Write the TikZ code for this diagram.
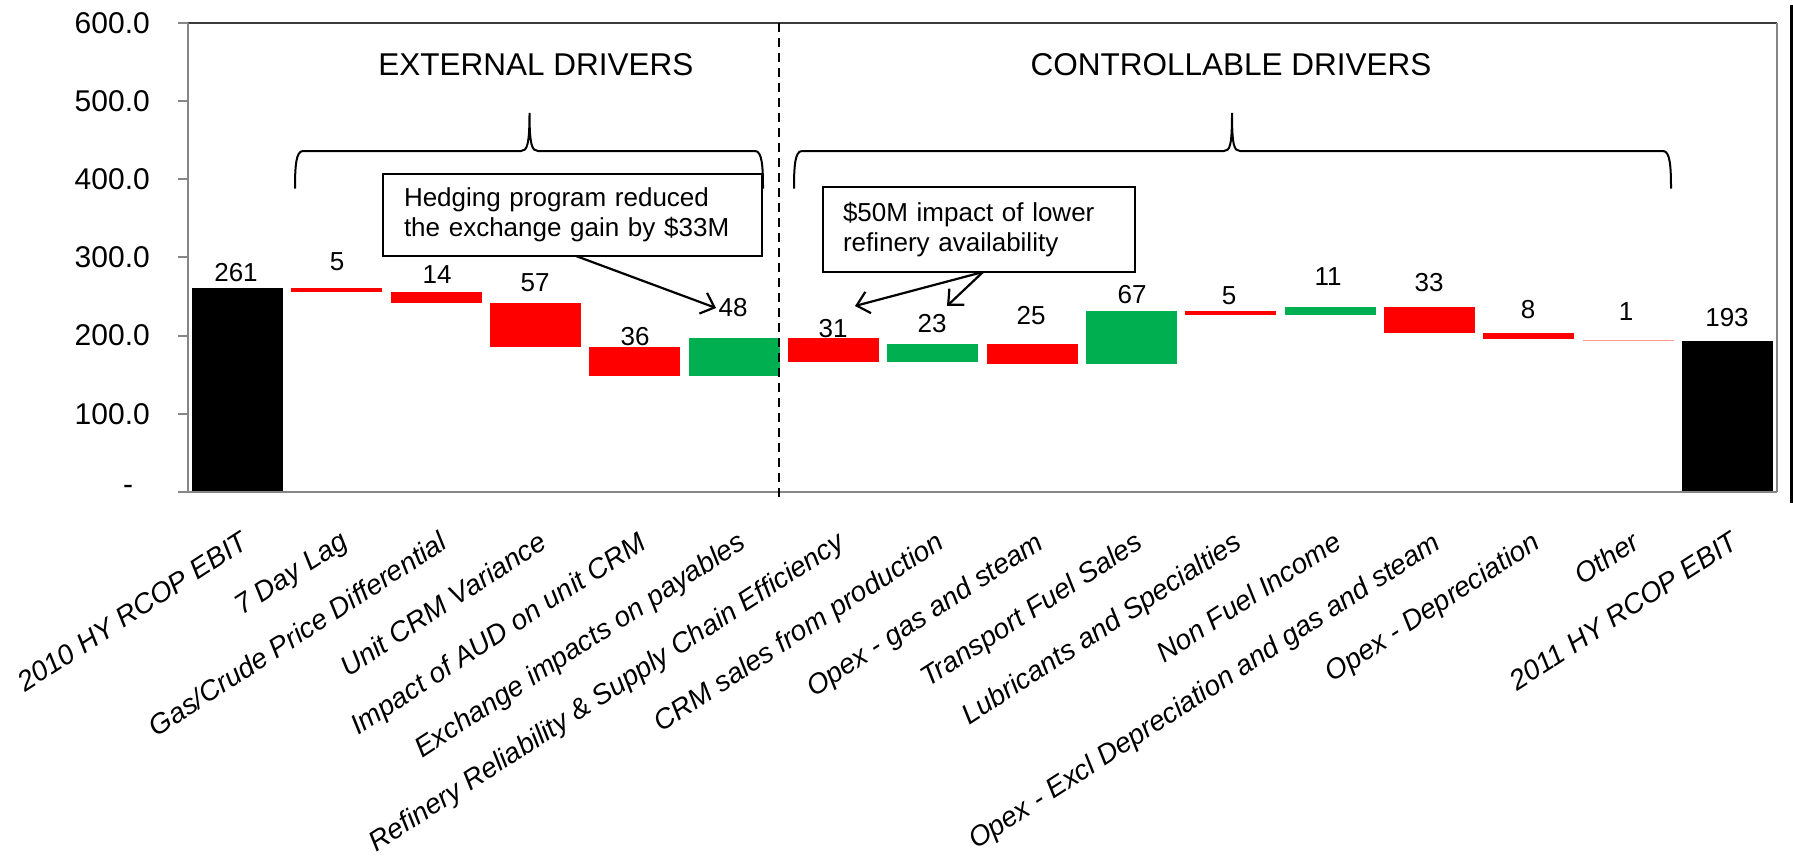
\documentclass[tikz,border=0pt]{standalone}
\usepackage{fontspec}
\setmainfont{Liberation Sans}
\usetikzlibrary{arrows.meta}
\definecolor{wfred}{RGB}{255,0,0}
\definecolor{wfgreen}{RGB}{0,176,80}
\definecolor{wfpink}{RGB}{255,150,150}
\definecolor{axgray}{RGB}{134,134,134}
\definecolor{framegray}{RGB}{60,60,60}
\newcommand\wfbar[4]{\fill[#4] ({#1-45.5},{492-#2*0.7817}) rectangle ({#1+45.5},{492-#3*0.7817});}
\tikzset{
  ylab/.style={anchor=east, font=\fontsize{30}{36}\selectfont, inner sep=0pt},
  vlab/.style={font=\fontsize{26}{31}\selectfont, inner sep=0pt},
  catlab/.style={font=\fontsize{28}{33}\selectfont\itshape, inner sep=0pt, rotate=33, anchor=north east},
  hdr/.style={font=\fontsize{31.5}{38}\selectfont, inner sep=0pt},
  note/.style={draw, line width=2pt, fill=white, font=\fontsize{26}{30}\selectfont, align=left, inner sep=0pt},
  bracepath/.style={line width=2pt},
  callout/.style={line width=2.2pt, -{Straight Barb[length=12pt,width=22pt]}},
  axisline/.style={axgray, line width=2.5pt},
  tickline/.style={axgray, line width=2pt}
}
\begin{document}
\begin{tikzpicture}[x=1pt,y=-1pt]
\useasboundingbox (0,0) rectangle (1793,856);
\fill[white] (0,0) rectangle (1793,856);

% bars
\wfbar{237.5}{0}{261}{black}
\wfbar{336.8}{261}{256}{wfred}
\wfbar{436.2}{256}{242}{wfred}
\wfbar{535.5}{242}{185}{wfred}
\wfbar{634.8}{185}{149}{wfred}
\wfbar{734.2}{149}{197}{wfgreen}
\wfbar{833.5}{197}{166}{wfred}
\wfbar{932.8}{166}{189}{wfgreen}
\wfbar{1032.1}{189}{164}{wfred}
\wfbar{1131.5}{164}{231}{wfgreen}
\wfbar{1230.8}{231}{226}{wfred}
\wfbar{1330.1}{226}{237}{wfgreen}
\wfbar{1429.5}{237}{204}{wfred}
\wfbar{1528.8}{204}{195.5}{wfred}
\wfbar{1628.1}{194.8}{193.8}{wfpink}
\wfbar{1727.5}{0}{193}{black}

% frame and axes
\draw[framegray, line width=1.8pt] (188,23) -- (1777,23);
\draw[axgray, line width=2pt] (1777,23) -- (1777,492);
\draw[axisline] (188,23) -- (188,492);
\draw[axisline] (178,492) -- (1777,492);
\foreach \v in {100,200,300,400,500,600}
  \draw[tickline] (178,{492-\v*0.7817}) -- (188,{492-\v*0.7817});

% y labels
\foreach \v/\t in {100/100.0,200/200.0,300/300.0,400/400.0,500/500.0,600/600.0}
  \node[ylab] (y\v) at (150,{492-\v*0.7817}) {\t};
\node[font=\fontsize{30}{36}\selectfont, inner sep=0pt] (y0) at (128,490) {-};

% divider
\draw[line width=2.3pt, dash pattern=on 9pt off 6pt] (779,23) -- (779,498);
\draw[line width=3pt] (1791.5,5) -- (1791.5,503);

% headers
\node[hdr] (hext) at (536,65) {EXTERNAL DRIVERS};
\node[hdr] (hctl) at (1231,65) {CONTROLLABLE DRIVERS};

% braces
\draw[bracepath] (295,188.6) .. controls (295,166) and (296,151) .. (303,151) -- (521,151)
  .. controls (527,151) and (529.5,145) .. (529.5,113)
  .. controls (529.5,145) and (532,151) .. (538,151) -- (755,151)
  .. controls (762,151) and (763,166) .. (763,188.6);
\draw[bracepath] (794,188.6) .. controls (794,166) and (795,151) .. (802,151) -- (1224,151)
  .. controls (1230,151) and (1232,145) .. (1232,113)
  .. controls (1232,145) and (1234,151) .. (1240,151) -- (1663,151)
  .. controls (1670,151) and (1671,166) .. (1671,188.6);

% annotation boxes
\node[note, minimum width=379pt, minimum height=82pt, text width=337pt] (hedge) at (572.5,215)
  {Hedging program reduced\\the exchange gain by \$33M};
\node[note, minimum width=312pt, minimum height=85pt, text width=272pt] (avail) at (979,229.5)
  {\$50M impact of lower\\refinery availability};

% value labels
\foreach \i/\x/\y/\t in {1/236/273/261, 2/337/262/5, 3/437/275/14, 4/535/283/57,
    5/635/337/36, 6/733/308/48, 7/833/329/31, 8/932/324/23, 9/1031/316/25,
    10/1132/295/67, 11/1229/296/5, 12/1328/277/11, 13/1429/283/33,
    14/1528/310/8, 15/1626/312/1, 16/1727/318/193}
  \node[vlab] (v\i) at (\x,\y) {\t};

% callout arrows
\coordinate (hs) at (576,256);
\coordinate (he) at (716,308);
\coordinate (as) at (983,272);
\coordinate (ae1) at (855,306);
\coordinate (ae2) at (947,306);
\draw[callout] (hs) -- (he);
\draw[callout] (as) -- (ae1);
\draw[callout] (as) -- (ae2);

% category labels
\foreach \i/\t in {1/{2010 HY RCOP EBIT}, 2/{7 Day Lag}, 3/{Gas/Crude Price Differential},
    4/{Unit CRM Variance}, 5/{Impact of AUD on unit CRM}, 6/{Exchange impacts on payables},
    7/{Refinery Reliability \& Supply Chain Efficiency}, 8/{CRM sales from production},
    9/{Opex - gas and steam}, 10/{Transport Fuel Sales}, 11/{Lubricants and Specialties},
    12/{Non Fuel Income}, 13/{Opex - Excl Depreciation and gas and steam},
    14/{Opex - Depreciation}, 15/{Other}, 16/{2011 HY RCOP EBIT}}
  \node[catlab] (c\i) at ({239.5+(\i-1)*99.33},530) {\t};
\end{tikzpicture}
\end{document}
